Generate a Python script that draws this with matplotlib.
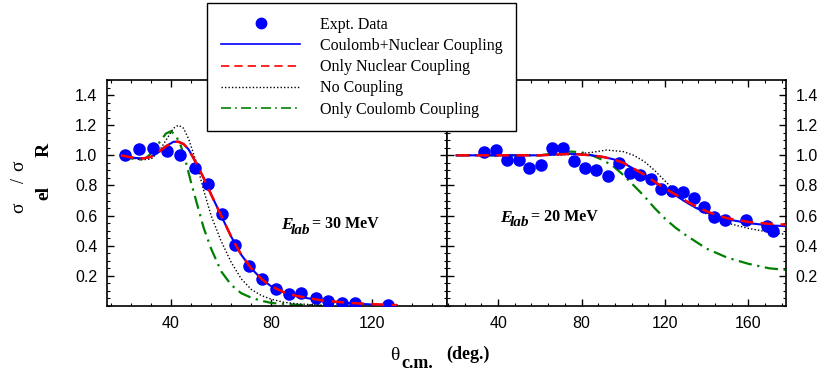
import numpy as np
import matplotlib.pyplot as plt
from matplotlib.ticker import MultipleLocator
from matplotlib.lines import Line2D

plt.rcParams['font.family'] = 'Liberation Sans'

# ---- E_lab = 30 MeV (left panel) ----
exp30_x = [21.7, 27.4, 32.7, 38.3, 43.6, 49.6, 54.9, 60.4, 65.5, 71.0, 76.3, 81.7,
           87.0, 92.0, 97.6, 102.6, 108.2, 113.3, 126.5]
exp30_y = [1.00, 1.04, 1.05, 1.03, 1.00, 0.917, 0.81, 0.61, 0.405, 0.265, 0.177, 0.115,
           0.077, 0.088, 0.05, 0.032, 0.021, 0.017, 0.005]

cn30_x = [20, 23, 26, 29, 32, 35, 38, 41, 43, 45, 47, 50, 53, 56, 60, 64, 68, 72, 76, 80,
          85, 90, 100, 110, 120, 130]
cn30_y = [1.00, 0.99, 0.982, 0.98, 0.99, 1.02, 1.06, 1.09, 1.09, 1.075, 1.04, 0.95, 0.85,
          0.74, 0.60, 0.46, 0.34, 0.25, 0.18, 0.13, 0.09, 0.065, 0.035, 0.02, 0.01, 0.005]
nuc30_y = [1.00, 0.99, 0.982, 0.98, 0.99, 1.02, 1.06, 1.09, 1.09, 1.075, 1.04, 0.95, 0.85,
           0.74, 0.60, 0.46, 0.34, 0.25, 0.18, 0.13, 0.092, 0.067, 0.037, 0.022, 0.012, 0.006]

nc30_x = [20, 24, 28, 32, 35, 38, 41, 43, 45, 47, 50, 53, 56, 60, 64, 68, 72, 76, 80, 85,
          90, 100]
nc30_y = [1.00, 0.985, 0.97, 0.975, 1.02, 1.10, 1.18, 1.20, 1.18, 1.11, 0.96, 0.77, 0.60,
          0.43, 0.29, 0.18, 0.11, 0.07, 0.045, 0.025, 0.015, 0.005]

cou30_x = [20, 24, 27, 30, 33, 36, 38, 40, 42, 44, 46, 48, 50, 53, 56, 60, 64, 68, 72, 76,
           80, 90, 100]
cou30_y = [1.00, 0.98, 0.97, 0.98, 1.03, 1.10, 1.145, 1.16, 1.13, 1.06, 0.95, 0.82, 0.70,
           0.52, 0.38, 0.23, 0.14, 0.085, 0.055, 0.035, 0.02, 0.008, 0.003]

# ---- E_lab = 20 MeV (right panel) ----
exp20_x = [33.4, 38.9, 44.2, 49.8, 55.0, 60.5, 65.8, 71.1, 76.5, 81.8, 87.1, 92.5, 97.8,
           103.1, 108.2, 113.3, 118.3, 123.4, 128.7, 133.8, 138.6, 143.7, 148.6, 158.6,
           169.0, 171.9]
exp20_y = [1.025, 1.037, 0.97, 0.97, 0.917, 0.937, 1.048, 1.048, 0.96, 0.917, 0.90, 0.86,
           0.947, 0.88, 0.87, 0.843, 0.777, 0.76, 0.755, 0.72, 0.655, 0.59, 0.57, 0.57,
           0.53, 0.50]

cn20_x = [20, 40, 60, 75, 85, 90, 95, 100, 105, 110, 115, 120, 125, 130, 135, 140, 145,
          150, 160, 170, 178]
cn20_y = [1.00, 1.00, 1.00, 1.01, 1.00, 0.99, 0.975, 0.95, 0.91, 0.87, 0.82, 0.775, 0.735,
          0.69, 0.65, 0.62, 0.595, 0.575, 0.55, 0.535, 0.53]
nuc20_y = [1.00, 1.00, 1.00, 1.01, 1.00, 0.99, 0.975, 0.95, 0.912, 0.872, 0.825, 0.78,
           0.74, 0.698, 0.66, 0.628, 0.602, 0.582, 0.558, 0.545, 0.54]

nc20_x = [20, 40, 60, 75, 85, 92, 100, 105, 110, 115, 120, 125, 130, 140, 150, 160, 170, 178]
nc20_y = [1.00, 1.00, 1.00, 1.005, 1.02, 1.035, 1.025, 1.00, 0.96, 0.90, 0.83, 0.76, 0.70,
          0.61, 0.55, 0.515, 0.49, 0.475]

cou20_x = [20, 40, 60, 70, 75, 80, 85, 90, 95, 100, 105, 110, 115, 120, 125, 130, 140,
           150, 160, 170, 178]
cou20_y = [1.00, 1.00, 1.00, 1.02, 1.025, 1.02, 1.00, 0.97, 0.93, 0.87, 0.80, 0.73, 0.65,
           0.58, 0.52, 0.47, 0.38, 0.32, 0.28, 0.25, 0.24]

legend_labels = ['Expt. Data', 'Coulomb+Nuclear Coupling', 'Only Nuclear Coupling',
                 'No Coupling', 'Only Coulomb Coupling']

W, H = 818, 381
fig = plt.figure(figsize=(W / 100, H / 100), dpi=100)


def px(x, y):
    return x / W, 1 - y / H


ax1 = fig.add_axes([107 / W, 1 - 306 / H, 340 / W, 226 / H])
ax2 = fig.add_axes([447 / W, 1 - 306 / H, 339 / W, 226 / H])

dash_red = (0, (5, 3))
dash_green = (0, (6, 2.5, 1, 2.5))
dot_black = (0, (1, 1.5))


def draw(ax, ex, ey, cx, cy, ny, ncx, ncy, gx, gy):
    ax.plot(gx, gy, color='green', lw=1.6, linestyle=dash_green)
    ax.plot(ncx, ncy, color='black', lw=1.0, linestyle=dot_black)
    ax.plot(ex, ey, 'o', color='blue', ms=8, mec='blue', zorder=3)
    ax.plot(cx, cy, color='blue', lw=1.5, zorder=4)
    ax.plot(cx, ny, color='red', lw=1.8, linestyle=dash_red, zorder=5)


draw(ax1, exp30_x, exp30_y, cn30_x, cn30_y, nuc30_y, nc30_x, nc30_y, cou30_x, cou30_y)
draw(ax2, exp20_x, exp20_y, cn20_x, cn20_y, nuc20_y, nc20_x, nc20_y, cou20_x, cou20_y)

ax1.set_xlim(14.5, 150)
ax2.set_xlim(15.5, 178)
for ax in (ax1, ax2):
    ax.set_ylim(0, 1.5)
    ax.set_xticks([40, 80, 120] if ax is ax1 else [40, 80, 120, 160])
    ax.set_yticks([0.2, 0.4, 0.6, 0.8, 1.0, 1.2, 1.4])
    ax.yaxis.set_major_formatter(plt.FormatStrFormatter('%.1f'))
    ax.xaxis.set_minor_locator(MultipleLocator(8))
    ax.yaxis.set_minor_locator(MultipleLocator(0.05))
    ax.tick_params(which='both', direction='in', top=True, right=True, left=True,
                   bottom=True, labelsize=11.5, pad=7)
    ax.tick_params(which='major', length=5, width=1)
    ax.tick_params(which='minor', length=2.5, width=0.8)
    for s in ax.spines.values():
        s.set_linewidth(1.2)
ax2.tick_params(labelleft=False, labelright=True)

# energy labels
for (x0, y0), energy in [((281, 225), '30'), ((500, 218), '20')]:
    fig.text(*px(x0, y0), 'E', fontsize=12.5, fontweight='bold', fontstyle='italic',
             family='Liberation Serif', va='center', ha='left')
    fig.text(*px(x0 + 10, y0 + 5), 'lab', fontsize=11, fontweight='bold',
             fontstyle='italic', family='Liberation Serif', va='center', ha='left')
    fig.text(*px(x0 + 31, y0 - 1), '= ' + energy + ' MeV', fontsize=11.5,
             fontweight='bold', family='Liberation Serif', va='center', ha='left')

# axis titles
fig.text(*px(390, 356), 'θ', fontsize=14, family='Liberation Serif', va='center', ha='left')
fig.text(*px(401, 363), 'c.m.', fontsize=13, fontweight='bold', family='Liberation Serif',
         va='center', ha='left')
fig.text(*px(446, 354), '(deg.)', fontsize=13, fontweight='bold', family='Liberation Serif',
         va='center', ha='left')

fig.text(*px(19, 208), 'σ', fontsize=14, family='Liberation Serif', rotation=90,
         va='center', ha='center')
fig.text(*px(20, 180), '/', fontsize=13, family='Liberation Serif', rotation=90,
         va='center', ha='center')
fig.text(*px(19, 166), 'σ', fontsize=14, family='Liberation Serif', rotation=90,
         va='center', ha='center')
fig.text(*px(44, 193), 'el', fontsize=14, fontweight='bold', family='Liberation Serif',
         rotation=90, va='center', ha='center')
fig.text(*px(44, 150), 'R', fontsize=14, fontweight='bold', family='Liberation Serif',
         rotation=90, va='center', ha='center')

handles = [
    Line2D([], [], marker='o', color='blue', ls='none', ms=7.5),
    Line2D([], [], color='blue', lw=1.2),
    Line2D([], [], color='red', lw=1.2, linestyle=dash_red),
    Line2D([], [], color='black', lw=1.0, linestyle=dot_black),
    Line2D([], [], color='green', lw=1.2, linestyle=dash_green),
]
leg = fig.legend(handles, legend_labels, loc='upper left',
                 bbox_to_anchor=px(207, 3), bbox_transform=fig.transFigure,
                 prop={'family': 'Liberation Serif', 'size': 11.5},
                 frameon=True, fancybox=False, framealpha=1, edgecolor='black',
                 handlelength=5, handletextpad=1.2, labelspacing=0.33,
                 borderpad=0.85, borderaxespad=0, numpoints=1)
leg.get_frame().set_linewidth(1.0)

fig.savefig('out.png', dpi=100)
